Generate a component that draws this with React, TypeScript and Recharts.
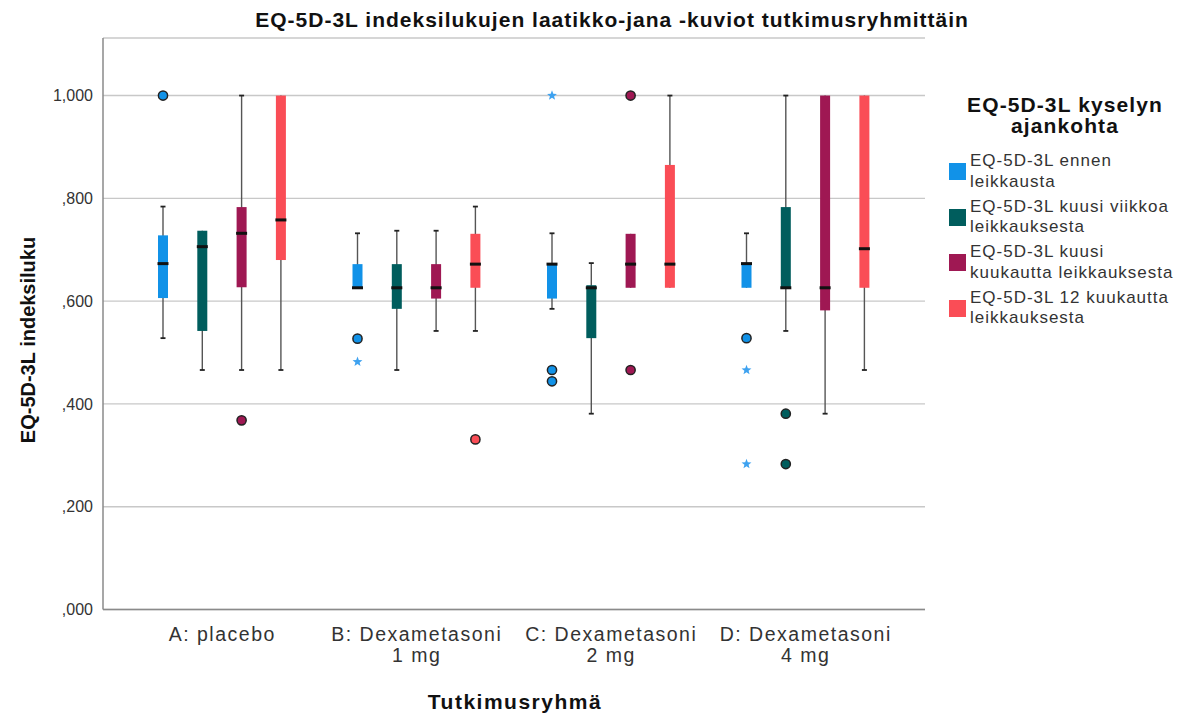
import React from "react";
import { BarChart, Bar, XAxis, YAxis, CartesianGrid } from "recharts";

const groups = [
  "A: placebo",
  "B: Dexametasoni\n1 mg",
  "C: Dexametasoni\n2 mg",
  "D: Dexametasoni\n4 mg",
];

const seriesNames = [
  "EQ-5D-3L ennen\nleikkausta",
  "EQ-5D-3L kuusi viikkoa\nleikkauksesta",
  "EQ-5D-3L kuusi\nkuukautta leikkauksesta",
  "EQ-5D-3L 12 kuukautta\nleikkauksesta",
];
const colors = ["#1192e8", "#005d5d", "#9f1853", "#fa4d56"];
const yTicks = [0, 0.2, 0.4, 0.6, 0.8, 1.0];

// [series][group]
const whiskerLow = [
  [0.528, 0.626, 0.585, 0.626],
  [0.466, 0.466, 0.381, 0.542],
  [0.466, 0.542, 0.626, 0.381],
  [0.466, 0.542, 0.626, 0.466],
];
const q1 = [
  [0.606, 0.626, 0.605, 0.626],
  [0.542, 0.585, 0.528, 0.626],
  [0.627, 0.605, 0.626, 0.582],
  [0.68, 0.626, 0.626, 0.626],
];
const median = [
  [0.673, 0.626, 0.672, 0.673],
  [0.706, 0.626, 0.626, 0.626],
  [0.732, 0.626, 0.672, 0.626],
  [0.758, 0.672, 0.672, 0.702],
];
const q3 = [
  [0.728, 0.672, 0.672, 0.673],
  [0.737, 0.672, 0.631, 0.783],
  [0.783, 0.672, 0.731, 1.0],
  [1.0, 0.731, 0.865, 1.0],
];
const whiskerHigh = [
  [0.784, 0.732, 0.732, 0.732],
  [0.737, 0.737, 0.674, 1.0],
  [1.0, 0.737, 0.731, 1.0],
  [1.0, 0.784, 1.0, 1.0],
];
// circles
const outliers = [
  [[1.0], [0.527], [0.466, 0.444], [0.528]],
  [[], [], [], [0.381, 0.283]],
  [[0.368], [], [1.0, 0.466], []],
  [[], [0.331], [], []],
];
// stars
const extremes = [
  [[], [0.482], [1.0], [0.466, 0.283]],
  [[], [], [], []],
  [[], [], [], []],
  [[], [], [], []],
];

const data = groups.map((g, gi) => {
  const row: any = { group: g, gi };
  seriesNames.forEach((_, si) => {
    row[`s${si}`] = [whiskerLow[si][gi], whiskerHigh[si][gi]];
  });
  return row;
});

const font = '"Liberation Sans", Arial, sans-serif';

const starPath = (cx: number, cy: number, r: number, ri: number) => {
  let d = "";
  for (let i = 0; i < 10; i++) {
    const rr = i % 2 === 0 ? r : ri;
    const a = -Math.PI / 2 + (i * Math.PI) / 5;
    d += (i === 0 ? "M" : "L") + (cx + rr * Math.cos(a)) + "," + (cy + rr * Math.sin(a));
  }
  return d + "Z";
};

const makeBoxShape = (si: number) => (props: any) => {
  const { x, y, width, height, payload } = props;
  const gi = payload.gi;
  const lo = whiskerLow[si][gi];
  const hi = whiskerHigh[si][gi];
  const top = Math.min(y, y + height);
  const h = Math.abs(height);
  const ppu = h / (hi - lo);
  const py = (v: number) => top + (hi - v) * ppu;
  const cx = x + width / 2;
  const boxTop = py(q3[si][gi]);
  const boxBottom = py(q1[si][gi]);
  return (
    <g>
      <line x1={cx} x2={cx} y1={py(hi)} y2={py(lo)} stroke="#555" strokeWidth={1.4} />
      {hi > q3[si][gi] && (
        <line x1={cx - 2.5} x2={cx + 2.5} y1={py(hi)} y2={py(hi)} stroke="#222" strokeWidth={1.8} />
      )}
      {lo < q1[si][gi] && (
        <line x1={cx - 2.5} x2={cx + 2.5} y1={py(lo)} y2={py(lo)} stroke="#222" strokeWidth={1.8} />
      )}
      <rect x={x} y={boxTop} width={width} height={Math.max(boxBottom - boxTop, 0)} fill={colors[si]} />
      <rect x={x - 0.5} y={py(median[si][gi]) - 1.5} width={width + 1} height={3} fill="#111" />
      {outliers[si][gi].map((v, k) => (
        <circle key={"o" + k} cx={cx} cy={py(v)} r={4.6} fill={colors[si]} stroke="#222" strokeWidth={1.5} />
      ))}
      {extremes[si][gi].map((v, k) => (
        <path key={"e" + k} d={starPath(cx, py(v), 5.2, 2.2)} fill="#3ea2f0" />
      ))}
    </g>
  );
};

const GroupTick = ({ x, y, payload }: any) => {
  const lines = String(payload.value).split("\n");
  return (
    <g>
      {lines.map((l, i) => (
        <text
          key={i}
          x={x}
          y={y}
          dy={23 + i * 21}
          textAnchor="middle"
          fontSize={19.5}
          fill="#333"
          fontFamily={font}
          style={{ letterSpacing: "1.5px" }}
        >
          {l}
        </text>
      ))}
    </g>
  );
};

const fmt = (v: number) => (v >= 1 ? "1,000" : "," + v.toFixed(3).slice(2));

const App: React.FC = () => {
  return (
    <div style={{ position: "absolute", left: 0, top: 0, width: 1187, height: 717, fontFamily: font, background: "#fff" }}>
      <div
        style={{
          position: "absolute",
          left: 612,
          top: 9,
          transform: "translateX(-50%)",
          whiteSpace: "nowrap",
          fontSize: 21,
          lineHeight: "21px",
          letterSpacing: "1px",
          fontWeight: "bold",
          color: "#111",
        }}
      >
        EQ-5D-3L indeksilukujen laatikko-jana -kuviot tutkimusryhmittäin
      </div>
      <BarChart
        width={1187}
        height={717}
        data={data}
        margin={{ top: 38, right: 262, bottom: 7.5, left: 0 }}
        barSize={10}
        barGap={29.3}
      >
        <CartesianGrid vertical={false} stroke="#c8c8c8" strokeWidth={1.4} />
        <XAxis
          dataKey="group"
          type="category"
          height={100}
          padding={{ left: 22, right: 22 }}
          tickLine={false}
          axisLine={{ stroke: "#8a8a8a", strokeWidth: 1.5 }}
          tick={<GroupTick />}
          interval={0}
        />
        <YAxis
          type="number"
          width={103}
          domain={[0, 1.112]}
          ticks={yTicks}
          tickFormatter={fmt}
          tickLine={false}
          tickMargin={4}
          axisLine={{ stroke: "#8a8a8a", strokeWidth: 1.5 }}
          tick={{ fontSize: 16, fill: "#333", fontFamily: font }}
        />
        {seriesNames.map((name, si) => (
          <Bar
            key={name}
            dataKey={`s${si}`}
            name={name}
            fill={colors[si]}
            shape={makeBoxShape(si)}
            isAnimationActive={false}
          />
        ))}
      </BarChart>
      <div
        style={{
          position: "absolute",
          left: 28,
          top: 340,
          transform: "translate(-50%, -50%) rotate(-90deg)",
          whiteSpace: "nowrap",
          fontSize: 20,
          lineHeight: "20px",
          fontWeight: "bold",
          color: "#111",
        }}
      >
        EQ-5D-3L indeksiluku
      </div>
      <div
        style={{
          position: "absolute",
          left: 515,
          top: 690.7,
          transform: "translateX(-50%)",
          whiteSpace: "nowrap",
          fontSize: 21,
          lineHeight: "22px",
          letterSpacing: "1.5px",
          fontWeight: "bold",
          color: "#111",
        }}
      >
        Tutkimusryhmä
      </div>
      <div
        style={{
          position: "absolute",
          left: 955,
          top: 93.7,
          width: 220,
          textAlign: "center",
          fontSize: 21,
          lineHeight: "21.5px",
          letterSpacing: "1.1px",
          fontWeight: "bold",
          color: "#111",
        }}
      >
        EQ-5D-3L kyselyn
        <br />
        ajankohta
      </div>
      <div style={{ position: "absolute", left: 949, top: 151.2 }}>
        {seriesNames.map((name, si) => (
          <div key={name} style={{ display: "flex", alignItems: "center", marginBottom: 4.5 }}>
            <div style={{ width: 17, height: 17, background: colors[si], marginRight: 4, flexShrink: 0 }} />
            <div style={{ fontSize: 17, lineHeight: "20.5px", letterSpacing: "1px", color: "#333", whiteSpace: "nowrap" }}>
              {name.split("\n").map((l, i) => (
                <div key={i}>{l}</div>
              ))}
            </div>
          </div>
        ))}
      </div>
    </div>
  );
};

export default App;
